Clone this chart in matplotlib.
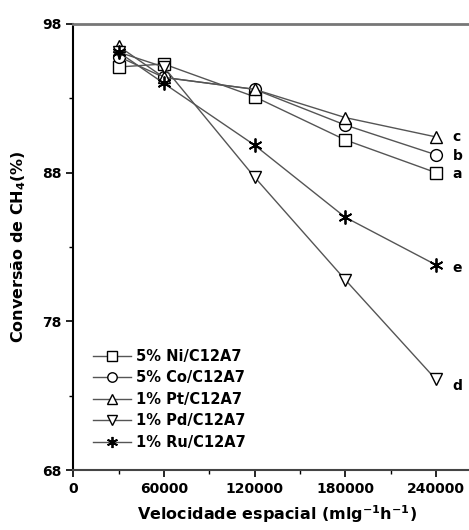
import numpy as np
import matplotlib
matplotlib.use("Agg")
import matplotlib.pyplot as plt
from matplotlib.ticker import FixedLocator

# velocidade espacial (mL g-1 h-1)
velocidade = [30000, 60000, 120000, 180000, 240000]

# conversão de CH4 (%) para cada catalisador
ni = [95.1, 95.3, 93.1, 90.2, 88.0]
co = [95.8, 94.4, 93.6, 91.2, 89.2]
pt = [96.5, 94.4, 93.6, 91.7, 90.4]
pd = [96.1, 95.1, 87.7, 80.8, 74.1]
ru = [96.1, 94.0, 89.85, 85.0, 81.8]

nomes = ["5% Ni/C12A7", "5% Co/C12A7", "1% Pt/C12A7", "1% Pd/C12A7", "1% Ru/C12A7"]
letras = ["a", "b", "c", "d", "e"]

y_ticks = [68, 78, 88, 98]
x_ticks = [0, 60000, 120000, 180000, 240000]

plt.rcParams['font.family'] = ['DejaVu Sans']
plt.rcParams['font.weight'] = 'bold'

fig = plt.figure(figsize=(4.69, 5.30), dpi=100)
ax = fig.add_axes([0.156, 0.113, 0.87, 0.842])

marcadores = ["s", "o", "^", "v", (6, 2, 0)]
series = [ni, co, pt, pd, ru]
cor_linha = "#555555"

for y, m, nome in zip(series, marcadores, nomes):
    if m == (6, 2, 0):
        ax.plot(velocidade, y, color=cor_linha, lw=1.0, marker=m, ms=10,
                mec="black", mew=1.3, label=nome)
    else:
        ax.plot(velocidade, y, color=cor_linha, lw=1.0, marker=m, ms=8.5,
                mfc="white", mec="black", mew=1.0, label=nome)

# letras ao lado do último ponto de cada curva
desloc = {"a": (12, -1), "b": (12, -1), "c": (12, 0), "d": (12, -5), "e": (12, -2)}
for y, l in zip(series, letras):
    ax.annotate(l, (velocidade[-1], y[-1]), xytext=desloc[l], textcoords="offset points",
                fontsize=10, fontweight="bold", va="center", ha="left")

ax.set_xlim(0, 270000)
ax.set_ylim(68, 98)
ax.xaxis.set_major_locator(FixedLocator(x_ticks))
ax.xaxis.set_minor_locator(FixedLocator([30000, 90000, 150000, 210000]))
ax.yaxis.set_major_locator(FixedLocator(y_ticks))
ax.yaxis.set_minor_locator(FixedLocator([73, 83, 93]))
ax.tick_params(which="major", length=5, width=1.2, labelsize=10)
ax.tick_params(which="minor", length=3, width=1.0)
for lab in ax.get_xticklabels() + ax.get_yticklabels():
    lab.set_fontweight("bold")

ax.spines["right"].set_visible(False)
ax.spines["top"].set_color("#777777")
ax.spines["top"].set_linewidth(2.0)
ax.spines["left"].set_linewidth(1.5)
ax.spines["bottom"].set_linewidth(1.5)
ax.spines["bottom"].set_color("#444444")

ax.set_xlabel("Velocidade espacial (mlg$^{\\mathbf{-1}}$h$^{\\mathbf{-1}}$)",
              fontsize=11.5, fontweight="bold", labelpad=5)
ax.set_ylabel("Conversão de CH$_\\mathbf{4}$(%)", fontsize=11.5, fontweight="bold", labelpad=10)

leg = ax.legend(loc="upper left", bbox_to_anchor=(0.035, 0.285), frameon=False,
                fontsize=10.5, handlelength=2.6, handletextpad=0.3, labelspacing=0.45,
                borderaxespad=0, markerscale=0.8)

fig.savefig("out.png", dpi=100)
